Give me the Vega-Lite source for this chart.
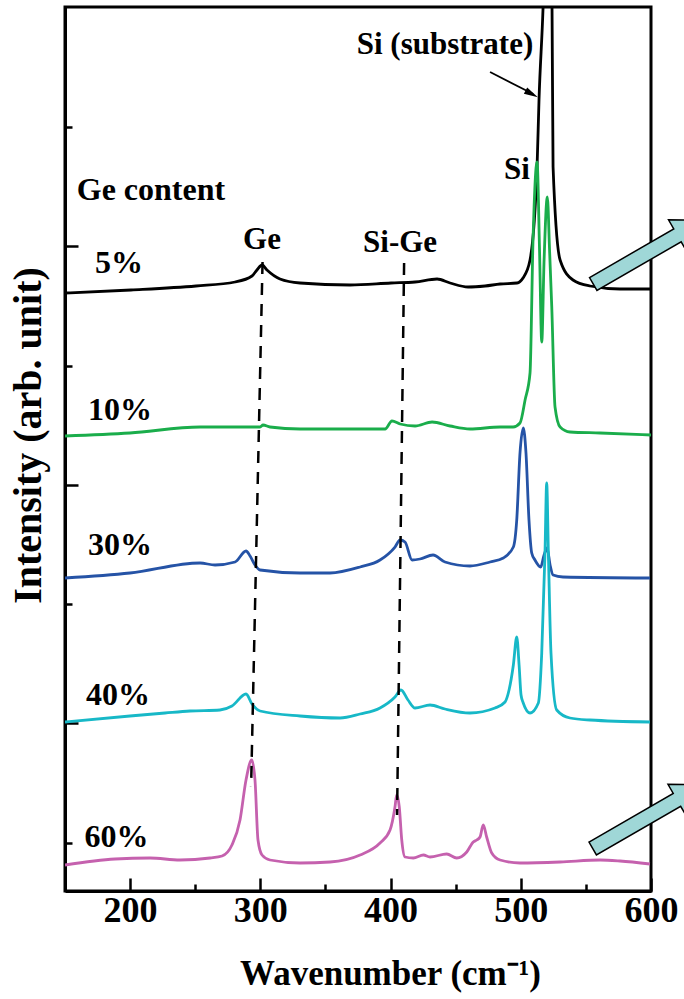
{
  "$schema": "https://vega.github.io/schema/vega-lite/v6.json",
  "autosize": "none",
  "padding": {"left": 65, "top": 7, "right": 33, "bottom": 108},
  "width": 586,
  "height": 884,
  "background": "white",
  "config": {
    "view": {"stroke": "black", "strokeWidth": 3},
    "font": "Liberation Serif",
    "axis": {"domainColor": "black", "domainWidth": 3, "tickColor": "black", "tickWidth": 2.5, "grid": false,
      "labelFont": "Liberation Serif", "labelFontWeight": "bold", "labelColor": "black",
      "titleFont": "Liberation Serif", "titleFontWeight": "bold", "titleColor": "black"}
  },
  "layer": [
    {
      "data": {"values": [
        {"s":"5%","x":150,"y":598},{"s":"5%","x":200.7,"y":601},{"s":"5%","x":250.6,"y":605},{"s":"5%","x":280.6,"y":609},{"s":"5%","x":293.6,"y":615},{"s":"5%","x":297.4,"y":621},{"s":"5%","x":301.3,"y":626},{"s":"5%","x":305.1,"y":621},{"s":"5%","x":315.1,"y":612},{"s":"5%","x":330.5,"y":608},{"s":"5%","x":368.9,"y":606},{"s":"5%","x":400.4,"y":608},{"s":"5%","x":418.8,"y":609},{"s":"5%","x":435.7,"y":612},{"s":"5%","x":445.7,"y":608},{"s":"5%","x":459.5,"y":604},{"s":"5%","x":472.6,"y":605},{"s":"5%","x":484.1,"y":607},{"s":"5%","x":497.1,"y":608},{"s":"5%","x":501.7,"y":613},{"s":"5%","x":507.1,"y":631},{"s":"5%","x":512.5,"y":724},{"s":"5%","x":514.0,"y":791},{"s":"5%","x":517.1,"y":883},{"s":"5%","x":520.5,"y":1041},{"s":"5%","x":524.0,"y":883},{"s":"5%","x":524.8,"y":724},{"s":"5%","x":530.2,"y":631},{"s":"5%","x":540.1,"y":611},{"s":"5%","x":553.2,"y":605},{"s":"5%","x":576.2,"y":602},{"s":"5%","x":600,"y":602},
        {"s":"10%","x":150,"y":455},{"s":"10%","x":199.9,"y":458},{"s":"10%","x":253.7,"y":464},{"s":"10%","x":299.8,"y":464},{"s":"10%","x":302.1,"y":466},{"s":"10%","x":307.4,"y":464},{"s":"10%","x":330.5,"y":462},{"s":"10%","x":353.5,"y":462},{"s":"10%","x":395.8,"y":462},{"s":"10%","x":401.1,"y":470},{"s":"10%","x":407.3,"y":467},{"s":"10%","x":418.8,"y":465},{"s":"10%","x":431.9,"y":469},{"s":"10%","x":445.7,"y":465},{"s":"10%","x":461.0,"y":462},{"s":"10%","x":484.1,"y":464},{"s":"10%","x":494.1,"y":464},{"s":"10%","x":499.4,"y":468},{"s":"10%","x":503.3,"y":491},{"s":"10%","x":507.1,"y":518},{"s":"10%","x":509.4,"y":651},{"s":"10%","x":512.5,"y":729},{"s":"10%","x":514.4,"y":641},{"s":"10%","x":516.1,"y":549},{"s":"10%","x":517.9,"y":631},{"s":"10%","x":520.4,"y":694},{"s":"10%","x":522.1,"y":641},{"s":"10%","x":523.8,"y":584},{"s":"10%","x":526.3,"y":484},{"s":"10%","x":530.2,"y":464},{"s":"10%","x":537.8,"y":459},{"s":"10%","x":560.9,"y":458},{"s":"10%","x":600,"y":456},
        {"s":"30%","x":150,"y":313},{"s":"30%","x":199.9,"y":318},{"s":"30%","x":253.7,"y":328},{"s":"30%","x":265.2,"y":326},{"s":"30%","x":280.6,"y":329},{"s":"30%","x":289.0,"y":340},{"s":"30%","x":292.1,"y":335},{"s":"30%","x":295.9,"y":326},{"s":"30%","x":299.8,"y":321},{"s":"30%","x":330.5,"y":318},{"s":"30%","x":353.5,"y":318},{"s":"30%","x":376.6,"y":324},{"s":"30%","x":391.9,"y":331},{"s":"30%","x":403.4,"y":344},{"s":"30%","x":407.3,"y":351},{"s":"30%","x":411.1,"y":349},{"s":"30%","x":416.5,"y":331},{"s":"30%","x":422.6,"y":332},{"s":"30%","x":432.6,"y":336},{"s":"30%","x":441.8,"y":329},{"s":"30%","x":461.0,"y":325},{"s":"30%","x":476.4,"y":329},{"s":"30%","x":486.6,"y":333},{"s":"30%","x":494.3,"y":344},{"s":"30%","x":496.9,"y":371},{"s":"30%","x":499.4,"y":438},{"s":"30%","x":501.9,"y":463},{"s":"30%","x":504.0,"y":438},{"s":"30%","x":506.3,"y":371},{"s":"30%","x":508.4,"y":338},{"s":"30%","x":510.9,"y":331},{"s":"30%","x":515.3,"y":324},{"s":"30%","x":517.9,"y":336},{"s":"30%","x":520.2,"y":343},{"s":"30%","x":522.5,"y":326},{"s":"30%","x":524.8,"y":316},{"s":"30%","x":532.4,"y":314},{"s":"30%","x":599.2,"y":313},
        {"s":"40%","x":150,"y":169},{"s":"40%","x":199.9,"y":175},{"s":"40%","x":226.8,"y":178},{"s":"40%","x":246.0,"y":180},{"s":"40%","x":269.0,"y":181},{"s":"40%","x":278.2,"y":185},{"s":"40%","x":289.0,"y":197},{"s":"40%","x":293.6,"y":187},{"s":"40%","x":299.8,"y":180},{"s":"40%","x":330.5,"y":175},{"s":"40%","x":361.2,"y":173},{"s":"40%","x":376.6,"y":177},{"s":"40%","x":391.9,"y":183},{"s":"40%","x":403.4,"y":194},{"s":"40%","x":408.0,"y":201},{"s":"40%","x":413.4,"y":191},{"s":"40%","x":418.8,"y":183},{"s":"40%","x":430.3,"y":186},{"s":"40%","x":441.8,"y":182},{"s":"40%","x":461.0,"y":178},{"s":"40%","x":480.2,"y":183},{"s":"40%","x":487.9,"y":189},{"s":"40%","x":491.0,"y":201},{"s":"40%","x":494.3,"y":226},{"s":"40%","x":496.9,"y":254},{"s":"40%","x":498.7,"y":226},{"s":"40%","x":500.2,"y":196},{"s":"40%","x":501.9,"y":188},{"s":"40%","x":507.1,"y":178},{"s":"40%","x":513.5,"y":188},{"s":"40%","x":516.1,"y":238},{"s":"40%","x":518.6,"y":338},{"s":"40%","x":519.9,"y":408},{"s":"40%","x":521.2,"y":338},{"s":"40%","x":523.2,"y":238},{"s":"40%","x":527.6,"y":181},{"s":"40%","x":537.8,"y":173},{"s":"40%","x":553.2,"y":171},{"s":"40%","x":599.2,"y":169},
        {"s":"60%","x":150,"y":26},{"s":"60%","x":188.4,"y":32},{"s":"60%","x":215.3,"y":33},{"s":"60%","x":238.3,"y":31},{"s":"60%","x":261.4,"y":33},{"s":"60%","x":270.6,"y":35},{"s":"60%","x":278.2,"y":46},{"s":"60%","x":284.4,"y":71},{"s":"60%","x":289.0,"y":111},{"s":"60%","x":293.4,"y":131},{"s":"60%","x":295.9,"y":111},{"s":"60%","x":298.2,"y":51},{"s":"60%","x":301.3,"y":36},{"s":"60%","x":307.4,"y":31},{"s":"60%","x":330.5,"y":28},{"s":"60%","x":353.5,"y":29},{"s":"60%","x":376.6,"y":36},{"s":"60%","x":391.9,"y":48},{"s":"60%","x":399.6,"y":61},{"s":"60%","x":403.4,"y":84},{"s":"60%","x":404.7,"y":96},{"s":"60%","x":406.7,"y":84},{"s":"60%","x":408.6,"y":51},{"s":"60%","x":411.1,"y":34},{"s":"60%","x":417.5,"y":33},{"s":"60%","x":425.2,"y":36},{"s":"60%","x":430.3,"y":34},{"s":"60%","x":443.1,"y":37},{"s":"60%","x":450.8,"y":33},{"s":"60%","x":458.5,"y":39},{"s":"60%","x":463.5,"y":49},{"s":"60%","x":466.2,"y":51},{"s":"60%","x":468.7,"y":54},{"s":"60%","x":471.2,"y":66},{"s":"60%","x":473.8,"y":54},{"s":"60%","x":477.7,"y":38},{"s":"60%","x":484.1,"y":31},{"s":"60%","x":499.4,"y":28},{"s":"60%","x":530.2,"y":29},{"s":"60%","x":560.9,"y":31},{"s":"60%","x":576.2,"y":30},{"s":"60%","x":599.2,"y":27}
      ]},
      "mark": {"type": "line", "strokeWidth": 2.8, "interpolate": "monotone", "clip": true},
      "encoding": {
        "x": {"field": "x", "type": "quantitative", "scale": {"domain": [150, 600], "nice": false, "zero": false},
          "axis": {"values": [200, 250, 300, 350, 400, 450, 500, 550, 600],
            "labelExpr": "datum.value % 100 === 0 ? datum.label : ''",
            "tickSize": {"condition": {"test": "datum.value % 100 === 0", "value": -13}, "value": -7},
            "labelFontSize": 36, "labelPadding": 15, "labelFlush": false, "labelOverlap": false,
            "title": "Wavenumber (cm⁻¹)", "titleFontSize": 35, "titlePadding": 22, "titleX": 325}},
        "y": {"field": "y", "type": "quantitative", "scale": {"domain": [0, 884], "nice": false, "zero": false},
          "axis": {"values": [48, 168, 287, 406, 525, 645, 764], "labels": false,
            "tickSize": {"condition": {"test": "datum.value == 168 || datum.value == 406 || datum.value == 645", "value": -13}, "value": -7},
            "title": "Intensity (arb. unit)", "titleFontSize": 40, "titlePadding": 15, "titleY": 428}},
        "color": {"field": "s", "type": "nominal", "legend": null,
          "scale": {"domain": ["5%", "10%", "30%", "40%", "60%"], "range": ["#000000", "#1aad4b", "#2553a6", "#17b8c7", "#c561ae"]}},
        "detail": {"field": "s"}
      }
    },
    {
      "data": {"values": [
        {"x": 301.7, "y": 629, "x2": 292.9, "y2": 104},
        {"x": 410.4, "y": 628, "x2": 405.0, "y2": 76}
      ]},
      "mark": {"type": "rule", "color": "black", "strokeWidth": 2.5, "strokeDash": [12, 9]},
      "encoding": {
        "x": {"field": "x", "type": "quantitative"},
        "y": {"field": "y", "type": "quantitative"},
        "x2": {"field": "x2"},
        "y2": {"field": "y2"}
      }
    },
    {
      "data": {"values": [{"x": 476.4, "y": 819, "x2": 509.5, "y2": 797}]},
      "mark": {"type": "rule", "color": "black", "strokeWidth": 1.8},
      "encoding": {
        "x": {"field": "x", "type": "quantitative"},
        "y": {"field": "y", "type": "quantitative"},
        "x2": {"field": "x2"},
        "y2": {"field": "y2"}
      }
    },
    {
      "data": {"values": [{"x": 508.4, "y": 797}]},
      "mark": {"type": "point", "shape": "M 1 0 L -1 -0.5 L -1 0.5 Z", "size": 196, "angle": 28, "filled": true, "color": "black", "opacity": 1},
      "encoding": {
        "x": {"field": "x", "type": "quantitative"},
        "y": {"field": "y", "type": "quantitative"}
      }
    },
    {
      "data": {"values": [
        {"t": "Si (substrate)", "x": 441.8, "y": 846, "f": 31},
        {"t": "Si", "x": 497.1, "y": 721, "f": 31},
        {"t": "Ge content", "x": 216.0, "y": 701, "f": 32},
        {"t": "Ge", "x": 301.3, "y": 651, "f": 31},
        {"t": "Si-Ge", "x": 407.3, "y": 648, "f": 31},
        {"t": "5%", "x": 191.5, "y": 628, "f": 32},
        {"t": "10%", "x": 192.2, "y": 481, "f": 32},
        {"t": "30%", "x": 192.2, "y": 346, "f": 32},
        {"t": "40%", "x": 190.7, "y": 196, "f": 32},
        {"t": "60%", "x": 189.5, "y": 54, "f": 32}
      ]},
      "mark": {"type": "text", "font": "Liberation Serif", "fontWeight": "bold", "color": "black", "baseline": "middle", "align": "center"},
      "encoding": {
        "x": {"field": "x", "type": "quantitative"},
        "y": {"field": "y", "type": "quantitative"},
        "text": {"field": "t"},
        "size": {"field": "f", "type": "quantitative", "scale": null}
      }
    },
    {
      "data": {"values": [{"x": 598.2, "y": 639}, {"x": 597.8, "y": 74.5}]},
      "mark": {"type": "point", "shape": "M -1 -0.116 L 0.52 -0.116 L 0.52 -0.28 L 1 0 L 0.52 0.28 L 0.52 0.116 L -1 0.116 Z",
        "size": 16384, "angle": 330, "filled": true, "fill": "#9fd7d7", "stroke": "black", "strokeWidth": 1.5, "opacity": 1, "fillOpacity": 1},
      "encoding": {
        "x": {"field": "x", "type": "quantitative"},
        "y": {"field": "y", "type": "quantitative"}
      }
    }
  ]
}
